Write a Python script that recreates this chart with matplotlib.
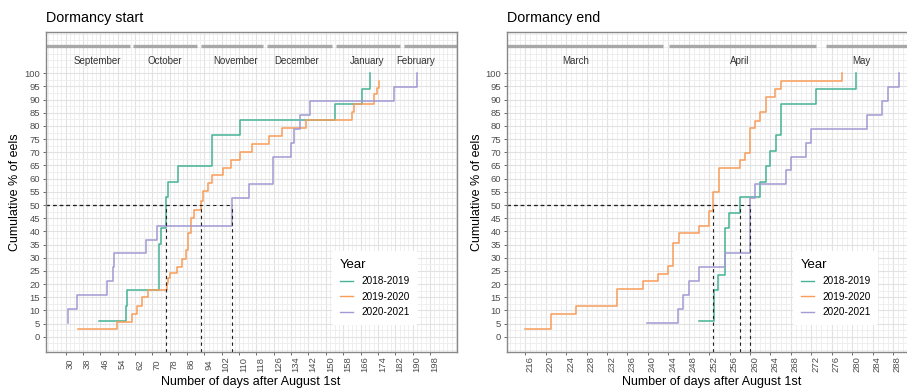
import matplotlib
matplotlib.use("Agg")
import matplotlib.pyplot as plt
from matplotlib.ticker import MultipleLocator
import numpy as np

plt.rcParams["font.family"] = ["Liberation Sans", "DejaVu Sans"]

YEARS = ["2018-2019", "2019-2020", "2020-2021"]
COLORS = ["#45b394", "#f99d58", "#a09bd3"]

# Dormancy start: day after August 1st and cumulative % of eels
START_2018_DAYS = [45.5, 57.8, 58.5, 73.2, 74.0, 76.1, 77.4, 82.0, 97.4, 110.4, 154.0, 166.6, 170.4]
START_2018_PCT = [5.9, 11.8, 17.6, 35.3, 41.2, 52.9, 58.8, 64.7, 76.5, 82.4, 88.2, 94.1, 100]
START_2019_DAYS = [35.5, 53.8, 60.7, 63.0, 65.4, 68.1, 76.6, 77.4, 78.1, 81.2, 83.5, 85.4, 86.6,
                   87.7, 89.2, 92.4, 93.3, 95.5, 97.4, 102.7, 106.4, 110.4, 115.8, 123.8, 129.7,
                   140.9, 162.3, 163.2, 172.4, 173.5, 174.3]
START_2019_PCT = [2.9, 5.7, 8.6, 11.8, 14.9, 17.8, 20.3, 22.2, 24.0, 26.6, 29.4, 32.9, 39.3,
                  44.9, 48.1, 51.4, 55.4, 58.3, 61.4, 64.0, 67.1, 70.0, 73.1, 76.2, 79.1,
                  82.2, 85.2, 88.2, 92.0, 94.3, 97.1]
START_2020_DAYS = [31.0, 31.2, 35.4, 48.9, 51.7, 52.3, 67.1, 72.0, 106.6, 114.7, 125.5, 133.8,
                   135.4, 138.1, 142.7, 181.5, 192.0]
START_2020_PCT = [5.3, 10.5, 15.8, 21.1, 26.3, 31.6, 36.8, 42.1, 52.6, 57.9, 68.4, 73.7,
                  78.9, 84.2, 89.5, 94.7, 100]

# Dormancy end
END_2018_DAYS = [250.0, 253.0, 253.8, 255.1, 255.9, 258.0, 261.9, 263.1, 263.9, 265.0, 266.1, 272.9, 280.8]
END_2018_PCT = [5.9, 17.6, 23.5, 41.2, 47.1, 52.9, 58.8, 64.7, 70.6, 76.5, 88.2, 94.1, 100]
END_2019_DAYS = [216.0, 221.0, 226.0, 234.0, 239.1, 242.0, 244.0, 244.9, 246.1, 250.0, 251.9,
                 252.8, 253.9, 258.0, 259.0, 260.0, 261.0, 261.9, 263.1, 264.9, 266.1, 278.0]
END_2019_PCT = [2.9, 8.6, 11.8, 18.0, 21.0, 23.7, 26.8, 35.7, 39.3, 42.2, 47.9,
                54.8, 64.2, 67.1, 69.9, 79.1, 82.0, 85.2, 90.9, 94.0, 97.1, 100]
END_2020_DAYS = [239.9, 245.9, 246.8, 248.0, 250.0, 255.1, 260.0, 261.0, 267.0, 268.0, 271.0,
                 271.9, 283.0, 285.9, 287.0, 289.1]
END_2020_PCT = [5.3, 10.5, 15.8, 21.1, 26.3, 31.6, 52.6, 57.9, 63.2, 68.4, 73.7,
                78.9, 84.2, 89.5, 94.7, 100]

# Month bands along the top of each panel
START_MONTHS = ["September", "October", "November", "December", "January", "February"]
START_MONTH_FROM = [20, 61, 92.5, 123, 154.5, 186]
START_MONTH_TO = [59.7, 90.5, 121.2, 152.8, 184.3, 215]
START_MONTH_LABEL_X = [44.7, 75.8, 108.5, 136.6, 168.9, 191.6]

END_MONTHS = ["March", "April", "May"]
END_MONTH_FROM = [212, 244.1, 274.9]
END_MONTH_TO = [242.9, 273.0, 300]
END_MONTH_LABEL_X = [225.9, 258.0, 281.9]

YLIM = (-5.7, 115.8)


def draw_panel(ax, series, months, m_from, m_to, m_label_x, xlim, xticks, minor_step, title):
    ax.set_xlim(*xlim)
    ax.set_ylim(*YLIM)
    ax.set_xticks(xticks)
    ax.set_yticks(np.arange(0, 101, 5))
    ax.xaxis.set_minor_locator(MultipleLocator(minor_step))
    ax.yaxis.set_minor_locator(MultipleLocator(2.5))
    ax.grid(which="major", color="#e2e2e2", lw=0.8)
    ax.grid(which="minor", color="#ececec", lw=0.6)
    ax.set_axisbelow(True)

    for x0, x1 in zip(m_from, m_to):
        ax.plot([x0, x1], [110.4, 110.4], color="#a8a8a8", lw=2.4, solid_capstyle="butt")
    for name, x in zip(months, m_label_x):
        ax.text(x, 104.8, name, ha="center", va="center", fontsize=7, color="#333333")

    handles = []
    medians = []
    for (days, pct), label, color in zip(series, YEARS, COLORS):
        line, = ax.step(days, pct, where="post", color=color, lw=1.1, label=label)
        handles.append(line)
        medians.append(next(d for d, p in zip(days, pct) if p >= 50))

    for m in medians:
        ax.plot([xlim[0], m], [50, 50], color="#222222", lw=0.8, ls=(0, (3, 3)))
        ax.plot([m, m], [YLIM[0], 50], color="#222222", lw=0.8, ls=(0, (3, 3)))

    for side in ax.spines.values():
        side.set_color("#888888")
        side.set_linewidth(1.0)
    ax.tick_params(which="minor", length=0)
    ax.tick_params(which="major", length=2.5, width=0.6, color="#555555",
                   labelsize=6.8, labelcolor="#4d4d4d")
    ax.tick_params(axis="x", pad=6.5)
    ax.tick_params(axis="y", pad=1.5)
    for lab in ax.get_xticklabels():
        lab.set_rotation(90)
        lab.set_ha("left")
        lab.set_va("center")

    ax.set_xlabel("Number of days after August 1st", fontsize=9, labelpad=3)
    ax.set_ylabel("Cumulative % of eels", fontsize=9, labelpad=2)
    ax.set_title(title, loc="left", fontsize=10.3, pad=7)

    leg = ax.legend(handles=handles, title="Year", loc="lower left",
                    bbox_to_anchor=(0.696, 0.083), borderaxespad=0, fontsize=7.2,
                    title_fontsize=9.5, handlelength=1.3, handletextpad=0.85,
                    labelspacing=0.55, alignment="left", frameon=True, facecolor="white",
                    edgecolor="none", framealpha=1, borderpad=0.8)
    for h in leg.get_lines():
        h.set_linewidth(1.0)


fig = plt.figure(figsize=(9.07, 3.9), dpi=100)
ax_start = fig.add_axes([0.0502, 0.0982, 0.4534, 0.8205])
ax_end = fig.add_axes([0.5587, 0.0982, 0.4528, 0.8205])

draw_panel(
    ax_start,
    [(START_2018_DAYS, START_2018_PCT), (START_2019_DAYS, START_2019_PCT),
     (START_2020_DAYS, START_2020_PCT)],
    START_MONTHS, START_MONTH_FROM, START_MONTH_TO, START_MONTH_LABEL_X,
    (20.7, 210.4), np.arange(30, 199, 8), 2, "Dormancy start",
)
draw_panel(
    ax_end,
    [(END_2018_DAYS, END_2018_PCT), (END_2019_DAYS, END_2019_PCT),
     (END_2020_DAYS, END_2020_PCT)],
    END_MONTHS, END_MONTH_FROM, END_MONTH_TO, END_MONTH_LABEL_X,
    (212.35, 292.8), np.arange(216, 289, 4), 1, "Dormancy end",
)

fig.savefig("out.png", dpi=100, facecolor="white")
